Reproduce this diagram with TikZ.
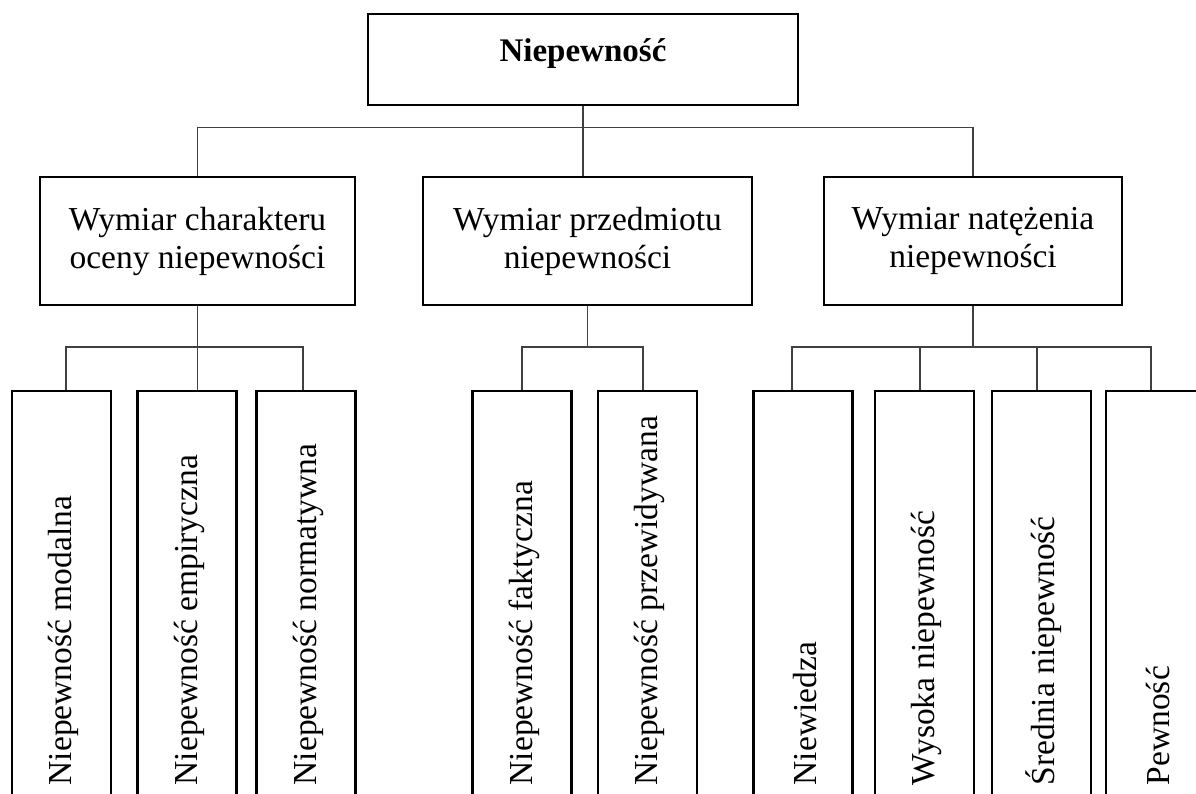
\documentclass[tikz,border=0pt]{standalone}
\usepackage{fontspec}
\setmainfont{Liberation Serif}
\tikzset{
  box/.style={draw, line width=2.4pt, inner sep=0pt},
  topbox/.style={box, minimum width=430pt, minimum height=91pt,
    font=\fontsize{33}{38}\selectfont\bfseries, text height=30pt, text depth=25pt},
  dimbox/.style={box, minimum height=128pt, align=center,
    font=\fontsize{33.5}{38}\selectfont},
  leaf/.style={box, minimum width=99pt, minimum height=430pt, anchor=north},
  leaftext/.style={rotate=90, anchor=west, inner sep=0pt,
    font=\fontsize{33.5}{38}\selectfont},
  link/.style={line width=1.4pt, draw=black!75},
}
\begin{document}
\begin{tikzpicture}[x=1pt, y=-1pt]
    \useasboundingbox (0,0) rectangle (1196,794);
    \clip (0,0) rectangle (1196,794);

    \node[topbox] (top) at (583,59.5) {Niepewność};

    \node[dimbox, minimum width=315pt] (wA) at (197.5,241) {Wymiar charakteru\\oceny niepewności};
    \node[dimbox, minimum width=329pt] (wB) at (587.5,241) {Wymiar przedmiotu\\niepewności};
    \node[dimbox, minimum width=298pt] (wC) at (973,241) {Wymiar natężenia\\niepewności};

    \foreach \x/\t [count=\i] in {61.5/Niepewność modalna, 187/Niepewność empiryczna,
        306/Niepewność normatywna, 522/Niepewność faktyczna, 647.5/Niepewność przewidywana,
        803/Niewiedza, 924.5/Wysoka niepewność, 1041.5/Średnia niepewność, 1155.5/Pewność}
    {
        \node[leaf] (n\i) at (\x,390) {};
        \node[leaftext] (t\i) at ([xshift=2pt,yshift=37pt]n\i.south) {\t};
    }

    \coordinate (jL1) at (66,347);
    \coordinate (jL3) at (303,347);
    \coordinate (jM1) at (522,347);
    \coordinate (jM2) at (643,347);
    \coordinate (jR1) at (792,347);
    \coordinate (jR2) at (920,347);
    \coordinate (jR3) at (1037,347);
    \coordinate (jR4) at (1151,347);

    \draw[link] (top.south) -- (top.south |- wB.north);
    \draw[link] (wA.north) -- ++(0,-48) -| (wC.north);

    \draw[link] (wA.south) -- (wA.south |- n2.north);
    \draw[link] (jL1 |- n1.north) -- (jL1) -- (jL3) -- (jL3 |- n3.north);

    \draw[link] (wB.south) -- (wB.south |- jM1);
    \draw[link] (jM1 |- n4.north) -- (jM1) -- (jM2) -- (jM2 |- n5.north);

    \draw[link] (wC.south) -- (wC.south |- jR1);
    \draw[link] (jR1 |- n6.north) -- (jR1) -- (jR4) -- (jR4 |- n9.north);
    \draw[link] (jR2) -- (jR2 |- n7.north);
    \draw[link] (jR3) -- (jR3 |- n8.north);
\end{tikzpicture}
\end{document}
